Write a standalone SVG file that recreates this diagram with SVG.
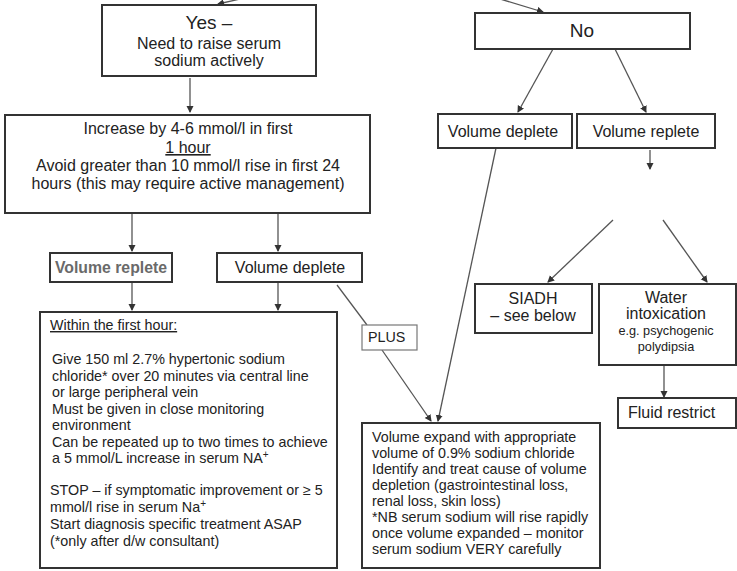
<svg xmlns="http://www.w3.org/2000/svg" width="737" height="571" viewBox="0 0 737 571">
  <style>
    .box { fill: #ffffff; stroke: #333333; stroke-width: 2; }
    .thin { fill: #ffffff; stroke: #777777; stroke-width: 1.2; }
    .t { font-family: "Liberation Sans", Arial, sans-serif; font-size: 14.3px; fill: #222222; }
    .lbl { font-size: 16px; }
    .c { text-anchor: middle; }
    .big { font-size: 19px; }
    .sm { font-size: 12.7px; }
    .grey { fill: #6a6a6a; font-weight: bold; font-size: 15.8px; }
    .link { fill: none; stroke: #555555; stroke-width: 1.3; }
  </style>
  <defs>
    <marker id="arr" markerUnits="userSpaceOnUse" markerWidth="8" markerHeight="8" refX="6" refY="3.5" orient="auto">
      <path d="M0,0 L7,3.5 L0,7 Z" fill="#333333"/>
    </marker>
  </defs>
  <rect width="737" height="571" fill="#ffffff"/>

  <!-- connectors -->
  <g id="connectors">
    <path class="link" d="M240,-1 L218,4" marker-end="url(#arr)"/>
    <path class="link" d="M500,-1 L543,12" marker-end="url(#arr)"/>
    <path class="link" d="M190,78 L190,112" marker-end="url(#arr)"/>
    <path class="link" d="M553,49 L518,112" marker-end="url(#arr)"/>
    <path class="link" d="M615,49 L646,112" marker-end="url(#arr)"/>
    <path class="link" d="M650,150 L650,169" marker-end="url(#arr)"/>
    <path class="link" d="M132,213 L132,251" marker-end="url(#arr)"/>
    <path class="link" d="M278,213 L278,251" marker-end="url(#arr)"/>
    <path class="link" d="M132,282 L132,310" marker-end="url(#arr)"/>
    <path class="link" d="M278,282 L278,310" marker-end="url(#arr)"/>
    <path class="link" d="M337,285 L367,325"/>
    <path class="link" d="M382,350 L431,421" marker-end="url(#arr)"/>
    <path class="link" d="M496,148 L438,421" marker-end="url(#arr)"/>
    <path class="link" d="M613,220 L548,282" marker-end="url(#arr)"/>
    <path class="link" d="M663,220 L707,282" marker-end="url(#arr)"/>
    <path class="link" d="M664,365 L664,397" marker-end="url(#arr)"/>
  </g>

  <g id="yes">
    <rect class="box" x="102" y="5" width="214" height="71"/>
    <text class="t c big" x="209" y="29">Yes –</text>
    <text class="t c lbl" x="209" y="49">Need to raise serum</text>
    <text class="t c lbl" x="209" y="66">sodium actively</text>
  </g>

  <g id="no">
    <rect class="box" x="475" y="13" width="215" height="36"/>
    <text class="t c big" x="582" y="37">No</text>
  </g>

  <g id="increase">
    <rect class="box" x="5" y="115" width="365" height="98"/>
    <text class="t c lbl" x="188" y="134">Increase by 4-6 mmol/l in first</text>
    <text class="t c lbl" x="188" y="153" text-decoration="underline">1 hour</text>
    <text class="t c lbl" x="188" y="171">Avoid greater than 10 mmol/l rise in first 24</text>
    <text class="t c lbl" x="188" y="189">hours (this may require active management)</text>
  </g>

  <g id="deplete-right">
    <rect class="box" x="438" y="114" width="134" height="34"/>
    <text class="t c lbl" x="503" y="137">Volume deplete</text>
  </g>

  <g id="replete-right">
    <rect class="box" x="577" y="114" width="138" height="34"/>
    <text class="t c lbl" x="646" y="137">Volume replete</text>
  </g>

  <g id="replete-left">
    <rect class="box" x="50" y="253" width="122" height="29"/>
    <text class="t c grey" x="111" y="273">Volume replete</text>
  </g>

  <g id="deplete-left">
    <rect class="box" x="217" y="253" width="145" height="29"/>
    <text class="t c lbl" x="290" y="273">Volume deplete</text>
  </g>

  <g id="siadh">
    <rect class="box" x="475" y="284" width="117" height="49"/>
    <text class="t c lbl" x="533" y="304">SIADH</text>
    <text class="t c lbl" x="533" y="321">– see below</text>
  </g>

  <g id="water">
    <rect class="box" x="599" y="284" width="137" height="81"/>
    <text class="t c lbl" x="666" y="303">Water</text>
    <text class="t c lbl" x="666" y="319">intoxication</text>
    <text class="t c sm" x="666" y="335">e.g. psychogenic</text>
    <text class="t c sm" x="666" y="351">polydipsia</text>
  </g>

  <g id="plus">
    <rect class="thin" x="362" y="325" width="55" height="25"/>
    <text class="t" x="368" y="342" font-size="11">PLUS</text>
  </g>

  <g id="fluid-restrict">
    <rect class="box" x="618" y="398" width="118" height="30"/>
    <text class="t lbl" x="628" y="418">Fluid restrict</text>
  </g>

  <g id="first-hour">
    <rect class="box" x="40" y="312" width="297" height="256"/>
    <text class="t" x="50" y="330" text-decoration="underline">Within the first hour:</text>
    <text class="t" x="52" y="364">Give 150 ml 2.7% hypertonic sodium</text>
    <text class="t" x="52" y="381">chloride* over 20 minutes via central line</text>
    <text class="t" x="52" y="397">or large peripheral vein</text>
    <text class="t" x="52" y="414">Must be given in close monitoring</text>
    <text class="t" x="52" y="430">environment</text>
    <text class="t" x="52" y="447">Can be repeated up to two times to achieve</text>
    <text class="t" x="52" y="463">a 5 mmol/L increase in serum NA<tspan font-size="10" dy="-5">+</tspan></text>
    <text class="t" x="50" y="495">STOP – if symptomatic improvement or ≥ 5</text>
    <text class="t" x="50" y="512">mmol/l rise in serum Na<tspan font-size="10" dy="-5">+</tspan></text>
    <text class="t" x="50" y="529">Start diagnosis specific treatment ASAP</text>
    <text class="t" x="50" y="546">(*only after d/w consultant)</text>
  </g>

  <g id="volume-expand">
    <rect class="box" x="362" y="423" width="238" height="145"/>
    <text class="t" x="372" y="442">Volume expand with appropriate</text>
    <text class="t" x="372" y="458">volume of 0.9% sodium chloride</text>
    <text class="t" x="372" y="474">Identify and treat cause of volume</text>
    <text class="t" x="372" y="490">depletion (gastrointestinal loss,</text>
    <text class="t" x="372" y="506">renal loss, skin loss)</text>
    <text class="t" x="372" y="522">*NB serum sodium will rise rapidly</text>
    <text class="t" x="372" y="538">once volume expanded – monitor</text>
    <text class="t" x="372" y="554">serum sodium VERY carefully</text>
  </g>
</svg>
